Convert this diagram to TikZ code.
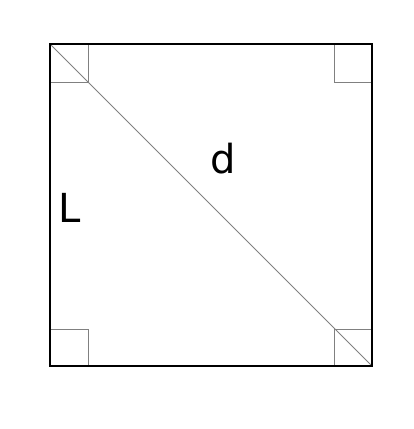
\documentclass[tikz,border=0pt]{standalone}
\usepackage{fontspec}
\setmainfont{DejaVu Sans}
\begin{document}
\begin{tikzpicture}[x=1pt, y=-1pt]
\useasboundingbox (0,0) rectangle (414,429);
\draw[black!50, line width=1pt] (50,44) -- (372,366);
\draw[black!50, line width=1pt] (50,82) -- (88,82) -- (88,44);
\draw[black!50, line width=1pt] (334,44) -- (334,82) -- (372,82);
\draw[black!50, line width=1pt] (50,329) -- (88,329) -- (88,366);
\draw[black!50, line width=1pt] (372,329) -- (334,329) -- (334,366);
\draw[black, line width=2pt] (50,44) rectangle (372,366);
\node[inner sep=0pt, font=\fontsize{40}{48}\selectfont] (dlabel) at (223,159) {d};
\node[inner sep=0pt, font=\fontsize{40}{48}\selectfont] (Llabel) at (70,208) {L};
\end{tikzpicture}
\end{document}
